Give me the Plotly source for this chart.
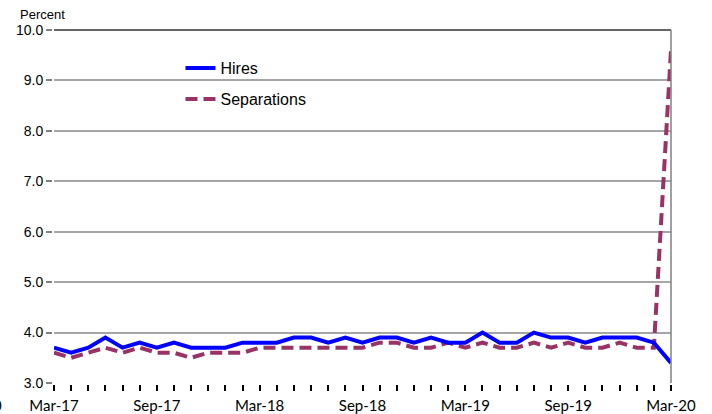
import plotly.graph_objects as go

months = ["Mar-17","Apr-17","May-17","Jun-17","Jul-17","Aug-17","Sep-17","Oct-17","Nov-17","Dec-17","Jan-18","Feb-18",
          "Mar-18","Apr-18","May-18","Jun-18","Jul-18","Aug-18","Sep-18","Oct-18","Nov-18","Dec-18","Jan-19","Feb-19",
          "Mar-19","Apr-19","May-19","Jun-19","Jul-19","Aug-19","Sep-19","Oct-19","Nov-19","Dec-19","Jan-20","Feb-20",
          "Mar-20"]
hires = [3.7,3.6,3.7,3.9,3.7,3.8,3.7,3.8,3.7,3.7,3.7,3.8,3.8,3.8,3.9,3.9,3.8,3.9,3.8,3.9,3.9,3.8,3.9,3.8,
         3.8,4.0,3.8,3.8,4.0,3.9,3.9,3.8,3.9,3.9,3.9,3.8,3.4]
separations = [3.6,3.5,3.6,3.7,3.6,3.7,3.6,3.6,3.5,3.6,3.6,3.6,3.7,3.7,3.7,3.7,3.7,3.7,3.7,3.8,3.8,3.7,3.7,3.8,
               3.7,3.8,3.7,3.7,3.8,3.7,3.8,3.7,3.7,3.8,3.7,3.7,9.6]
tick_labels = ["Mar-17","Sep-17","Mar-18","Sep-18","Mar-19","Sep-19","Mar-20"]
y_ticks = [3,4,5,6,7,8,9,10]

fig = go.Figure()
fig.add_trace(go.Scatter(x=months, y=hires, name="Hires", mode="lines",
                         line=dict(color="#0000FF", width=4), zorder=1, legendgroup="a"))
fig.add_trace(go.Scatter(x=months, y=separations, name="Separations", mode="lines",
                         line=dict(color="#993366", width=4, dash="12px,6px"), zorder=0, legendgroup="b"))

fig.update_layout(
    width=712, height=414,
    margin=dict(l=54, r=41, t=30, b=31),
    paper_bgcolor="white", plot_bgcolor="white",
    font=dict(family="Liberation Sans, Arial", size=14, color="black"),
    showlegend=True,
    legend=dict(x=0.205, y=0.94, xanchor="left", yanchor="top", bgcolor="rgba(0,0,0,0)",
                font=dict(size=16, family="Liberation Sans, Arial"),
                traceorder="grouped", tracegroupgap=7, itemwidth=30),
    xaxis=dict(type="category", range=[0, len(months) - 1], automargin=False,
               tickmode="array", tickvals=tick_labels, ticktext=tick_labels,
               ticks="outside", ticklen=6, tickcolor="black", tickwidth=1.5, ticklabelstandoff=2,
               showline=True, linecolor="black", linewidth=1.5, showgrid=False,
               minor=dict(ticks="outside", ticklen=6, tickcolor="black", tickwidth=1.5, dtick=1, showgrid=False),
               tickfont=dict(family="Lato, Open Sans", size=15, color="black")),
    yaxis=dict(range=[3, 10], tickmode="array", tickvals=y_ticks, tickformat=".1f", automargin=False,
               ticks="outside", ticklen=6, tickcolor="#808080", tickwidth=1.5,
               showline=True, linecolor="#808080", linewidth=2,
               showgrid=True, gridcolor="#A6A6A6", gridwidth=1.5, zeroline=False,
               tickfont=dict(family="Liberation Sans, Arial", size=14, color="black")),
)

fig.add_shape(type="line", xref="paper", yref="paper", x0=0, x1=1, y0=1, y1=1,
              line=dict(color="#333333", width=1.5))
fig.add_shape(type="line", xref="paper", yref="paper", x0=1, x1=1, y0=0, y1=1,
              line=dict(color="#808080", width=1.5))

fig.add_annotation(text="Percent", xref="paper", yref="paper", x=-0.018, y=1.045,
                   xanchor="center", yanchor="middle", showarrow=False,
                   font=dict(family="Liberation Sans, Arial", size=13, color="black"))
fig.add_annotation(text="0", xref="paper", yref="paper", x=-0.081, y=-0.062,
                   xanchor="right", yanchor="middle", showarrow=False,
                   font=dict(family="Lato, Open Sans", size=15, color="black"))

fig.write_html("out.html", config={"displayModeBar": False},
               post_script="document.body.style.margin='0';document.body.style.overflow='hidden';")
